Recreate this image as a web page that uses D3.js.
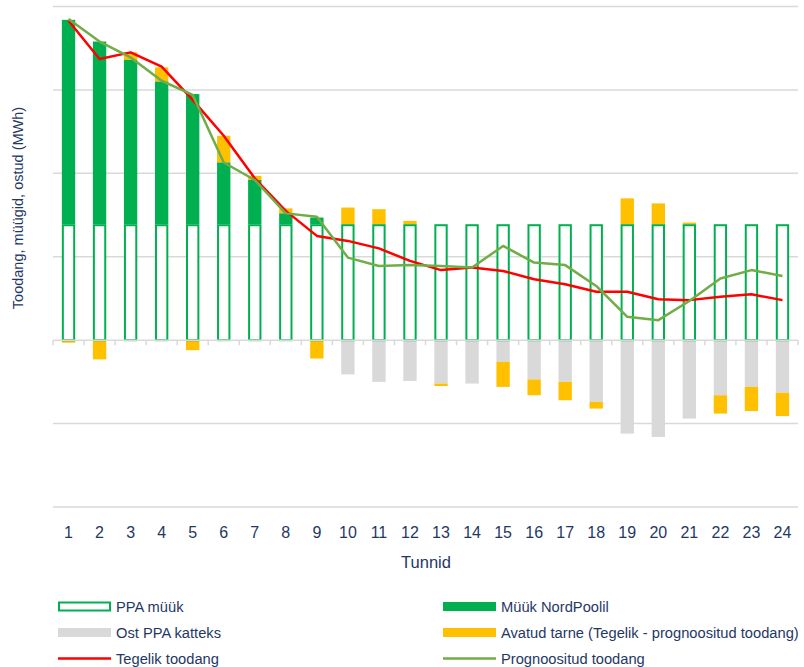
<!DOCTYPE html>
<html>
<head>
<meta charset="utf-8">
<script src="https://cdn.jsdelivr.net/npm/d3@7"></script>
<style>
  body { margin: 0; background: #fff; }
  text { font-family: "Liberation Sans", "DejaVu Sans", sans-serif; fill: #1f3864; }
</style>
</head>
<body>
<svg id="chart" width="804" height="667"></svg>
<script>
// hours on the x axis
const hours = d3.range(1, 25).map(String)

// PPA sale (same each hour)
const ppaSale = [1.39, 1.39, 1.39, 1.39, 1.39, 1.39, 1.39, 1.39, 1.39, 1.39, 1.39, 1.39,
  1.39, 1.39, 1.39, 1.39, 1.39, 1.39, 1.39, 1.39, 1.39, 1.39, 1.39, 1.39]

// sold on NordPool (on top of PPA)
const nordPool = [2.45, 2.19, 1.97, 1.71, 1.56, 0.74, 0.53, 0.13, 0.08, 0, 0, 0,
  0, 0, 0, 0, 0, 0, 0, 0, 0, 0, 0, 0]

// bought to cover PPA (negative)
const ppaCover = [0, 0, 0, 0, 0, 0, 0, 0, 0, -0.41, -0.50, -0.49,
  -0.52, -0.52, -0.26, -0.47, -0.50, -0.74, -1.12, -1.16, -0.94, -0.66, -0.56, -0.63]

// open delivery (actual - forecast)
const openDelivery = [-0.03, -0.23, 0.09, 0.17, -0.12, 0.32, 0.05, 0.06, -0.22, 0.20, 0.18, 0.04,
  -0.03, 0, -0.30, -0.19, -0.22, -0.08, 0.31, 0.25, 0.02, -0.22, -0.29, -0.28]

// actual production
const actual = [3.83, 3.37, 3.45, 3.28, 2.88, 2.45, 1.94, 1.55, 1.25, 1.19, 1.10, 0.95,
  0.84, 0.87, 0.83, 0.73, 0.67, 0.58, 0.58, 0.49, 0.48, 0.52, 0.55, 0.48]

// forecast production
const forecast = [3.85, 3.58, 3.39, 3.11, 2.94, 2.13, 1.92, 1.52, 1.48, 0.99, 0.89, 0.90,
  0.89, 0.87, 1.13, 0.93, 0.90, 0.65, 0.28, 0.24, 0.47, 0.74, 0.84, 0.77]

const gridTicks = [-2, -1, 0, 1, 2, 3, 4]

const colors = {
  green: '#00b050',
  grey: '#d9d9d9',
  yellow: '#ffc000',
  red: '#ff0000',
  forecast: '#70ad47'
}

const margin = { top: 6.5, right: 6, bottom: 160, left: 53 }
const width = 804
const height = 667

const svg = d3.select('#chart')

// scales
const x = d3.scaleBand()
  .domain(hours)
  .range([margin.left, width - margin.right])

const y = d3.scaleLinear()
  .domain([-2, 4])
  .range([height - margin.bottom, margin.top])

const barW = x.bandwidth() * 0.43
const barX = h => x(h) + (x.bandwidth() - barW) / 2
const cx = h => x(h) + x.bandwidth() / 2

// gridlines
svg.append('g')
  .selectAll('line')
  .data(gridTicks.filter(d => d !== 0))
  .join('line')
  .attr('x1', margin.left)
  .attr('x2', width - margin.right)
  .attr('y1', d => y(d))
  .attr('y2', d => y(d))
  .attr('stroke', '#d9d9d9')
  .attr('stroke-width', 1.5)

// build stacks
const rows = hours.map((h, i) => {
  const ppaTop = ppaSale[i]
  const npTop = ppaTop + nordPool[i]
  const open = openDelivery[i]
  return {
    h,
    ppa: [0, ppaTop],
    np: [ppaTop, npTop],
    grey: [0, ppaCover[i]],
    yellow: open >= 0 ? [npTop, npTop + open] : [ppaCover[i], ppaCover[i] + open]
  }
})

const bars = svg.append('g')

const drawStack = (key, fill) => {
  bars.append('g')
    .selectAll('rect')
    .data(rows.filter(d => d[key][0] !== d[key][1]))
    .join('rect')
    .attr('x', d => barX(d.h))
    .attr('width', barW)
    .attr('y', d => y(Math.max(d[key][0], d[key][1])))
    .attr('height', d => Math.abs(y(d[key][0]) - y(d[key][1])))
    .attr('fill', fill)
}

drawStack('grey', colors.grey)
drawStack('yellow', colors.yellow)
drawStack('np', colors.green)

// PPA outline bars
bars.append('g')
  .selectAll('rect')
  .data(rows)
  .join('rect')
  .attr('x', d => barX(d.h) + 1)
  .attr('width', barW - 2)
  .attr('y', d => y(d.ppa[1]) + 1)
  .attr('height', d => y(d.ppa[0]) - y(d.ppa[1]) - 1)
  .attr('fill', '#fff')
  .attr('stroke', colors.green)
  .attr('stroke-width', 2)

// zero axis with ticks between categories
const zeroAxis = svg.append('g')
  .attr('transform', `translate(0, ${y(0)})`)
zeroAxis.append('line')
  .attr('x1', margin.left)
  .attr('x2', width - margin.right)
  .attr('stroke', '#d9d9d9')
  .attr('stroke-width', 1.5)
zeroAxis.selectAll('.tick')
  .data(hours.concat(['end']))
  .join('line')
  .attr('x1', d => d === 'end' ? width - margin.right : x(d))
  .attr('x2', d => d === 'end' ? width - margin.right : x(d))
  .attr('y1', 0)
  .attr('y2', 5)
  .attr('stroke', '#d9d9d9')
  .attr('stroke-width', 1.5)

// lines
const line = d3.line()
  .x((d, i) => cx(hours[i]))
  .y(d => y(d))

svg.append('path')
  .datum(actual)
  .attr('d', line)
  .attr('fill', 'none')
  .attr('stroke', colors.red)
  .attr('stroke-width', 2.5)
  .attr('stroke-linejoin', 'round')

svg.append('path')
  .datum(forecast)
  .attr('d', line)
  .attr('fill', 'none')
  .attr('stroke', colors.forecast)
  .attr('stroke-width', 2.5)
  .attr('stroke-linejoin', 'round')

// x labels
svg.append('g')
  .selectAll('text')
  .data(hours)
  .join('text')
  .attr('x', d => cx(d))
  .attr('y', 538)
  .attr('text-anchor', 'middle')
  .attr('font-size', 16)
  .text(d => d)

svg.append('text')
  .attr('x', 426)
  .attr('y', 568)
  .attr('text-anchor', 'middle')
  .attr('font-size', 16.5)
  .text('Tunnid')

svg.append('text')
  .attr('transform', 'translate(23, 208) rotate(-90)')
  .attr('text-anchor', 'middle')
  .attr('font-size', 14.5)
  .text('Toodang, müügid, ostud (MWh)')

// legend
const legend = [
  { label: 'PPA müük', type: 'outline', col: 0, row: 0 },
  { label: 'Müük NordPoolil', type: 'rect', color: colors.green, col: 1, row: 0 },
  { label: 'Ost PPA katteks', type: 'rect', color: colors.grey, col: 0, row: 1 },
  { label: 'Avatud tarne (Tegelik - prognoositud toodang)', type: 'rect', color: colors.yellow, col: 1, row: 1 },
  { label: 'Tegelik toodang', type: 'line', color: colors.red, col: 0, row: 2 },
  { label: 'Prognoositud toodang', type: 'line', color: colors.forecast, col: 1, row: 2 }
]
const colX = [58, 443]
const rowY = [606.5, 632.5, 658.5]

const items = svg.append('g')
  .selectAll('g')
  .data(legend)
  .join('g')
  .attr('transform', d => `translate(${colX[d.col]}, ${rowY[d.row]})`)

items.filter(d => d.type === 'outline')
  .append('rect')
  .attr('x', 1).attr('y', -4).attr('width', 51).attr('height', 8)
  .attr('fill', '#fff').attr('stroke', colors.green).attr('stroke-width', 2)

items.filter(d => d.type === 'rect')
  .append('rect')
  .attr('x', 0).attr('y', -4.5).attr('width', 53).attr('height', 9)
  .attr('fill', d => d.color)

items.filter(d => d.type === 'line')
  .append('line')
  .attr('x1', 0).attr('x2', 53)
  .attr('stroke', d => d.color).attr('stroke-width', 2.5)

items.append('text')
  .attr('x', 58)
  .attr('dy', '0.35em')
  .attr('font-size', 14.7)
  .text(d => d.label)
</script>
</body>
</html>
